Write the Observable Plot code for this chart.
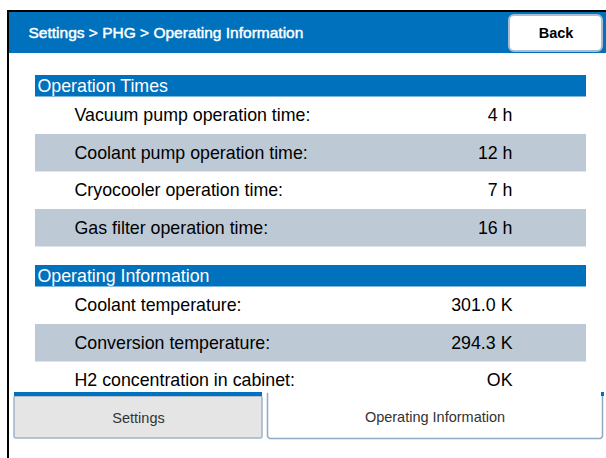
<!DOCTYPE html>
<html>
<head>
<meta charset="utf-8">
<script src="https://cdn.jsdelivr.net/npm/d3@7"></script>
<script src="https://cdn.jsdelivr.net/npm/@observablehq/plot@0.6"></script>
<style>
  html, body { margin: 0; padding: 0; background: #fff; }
  #chart svg { display: block; }
</style>
</head>
<body>
<div id="chart"></div>
<script>
// ---- data ----
const breadcrumb = ["Settings", "PHG", "Operating Information"];
const backLabel = "Back";
const sections = ["Operation Times", "Operating Information"];
const labels = [
  "Vacuum pump operation time:",
  "Coolant pump operation time:",
  "Cryocooler operation time:",
  "Gas filter operation time:",
  "Coolant temperature:",
  "Conversion temperature:",
  "H2 concentration in cabinet:"
];
const values = ["4 h", "12 h", "7 h", "16 h", "301.0 K", "294.3 K", "OK"];
const sectionOf = [0, 0, 0, 0, 1, 1, 1];
const tabs = ["Settings", "Operating Information"];
const activeTab = 1;

// ---- layout (derived, not data) ----
const W = 606, H = 458;
const BLUE = "#0071bc", GRAY = "#bdcad6", FONT = "Liberation Sans, Arial, sans-serif";
const L = {left: 35, right: 586, labelX: 74, valueX: 512, top: 75, headH: 21.5, rowH: 37.5, gap: 18.5};

const heads = [], rows = [];
let y = L.top;
sections.forEach((s, si) => {
  heads.push({name: s, y1: y, y2: y + L.headH});
  y += L.headH;
  let k = 0;
  labels.forEach((lab, i) => {
    if (sectionOf[i] !== si) return;
    rows.push({label: lab, value: values[i], y1: y, y2: y + L.rowH, shaded: k % 2 === 1});
    y += L.rowH; k++;
  });
  y += L.gap;
});

const tabDefs = [
  {name: tabs[0], x1: 14, x2: 262, y1: 396, y2: 438},
  {name: tabs[1], x1: 267, x2: 602, y1: 393, y2: 438}
];
const inactive = tabDefs.filter((d, i) => i !== activeTab);
const active = tabDefs[activeTab];
const activePath = [
  {x: active.x1, y: active.y1}, {x: active.x1, y: active.y2 - 2},
  {x: active.x1 + 2, y: active.y2}, {x: active.x2 - 2, y: active.y2},
  {x: active.x2, y: active.y2 - 2}, {x: active.x2, y: active.y1}
];

const chart = Plot.plot({
  width: W, height: H,
  margin: 0,
  x: {domain: [0, W], range: [0, W], axis: null},
  y: {domain: [0, H], range: [0, H], axis: null},
  style: {fontFamily: FONT, background: "#fff"},
  marks: [
    // frame
    Plot.rect([{x1: 7, x2: W, y1: 10, y2: 12}, {x1: 7, x2: 9, y1: 10, y2: H}], {x1: "x1", x2: "x2", y1: "y1", y2: "y2", fill: "#000"}),
    // title bar
    Plot.rect([{x1: 9, x2: W, y1: 12, y2: 53}], {x1: "x1", x2: "x2", y1: "y1", y2: "y2", fill: BLUE}),
    Plot.text([breadcrumb.join(" > ")], {x: 28, y: 33, text: d => d, textAnchor: "start", fill: "#fff", stroke: "#fff", strokeWidth: 0.45, fontSize: 15.5}),
    Plot.rect([{x1: 509, x2: 602, y1: 15, y2: 51}], {x1: "x1", x2: "x2", y1: "y1", y2: "y2", fill: "#fff", stroke: "#a9bcd2", strokeWidth: 2, rx: 5}),
    Plot.text([backLabel], {x: 555.5, y: 33, text: d => d, fill: "#000", fontSize: 14.5, fontWeight: "bold"}),
    // shaded rows
    Plot.rect(rows.filter(r => r.shaded), {x1: L.left, x2: L.right, y1: "y1", y2: "y2", fill: GRAY}),
    // section headers
    Plot.rect(heads, {x1: L.left, x2: L.right, y1: "y1", y2: "y2", fill: BLUE}),
    Plot.text(heads, {x: L.left + 2, y: d => (d.y1 + d.y2) / 2 + 0.5, text: "name", textAnchor: "start", fill: "#fff", fontSize: 17.8}),
    // labels and values
    Plot.text(rows, {x: L.labelX, y: d => (d.y1 + d.y2) / 2, text: "label", textAnchor: "start", fill: "#000", fontSize: 17.8}),
    Plot.text(rows, {x: L.valueX, y: d => (d.y1 + d.y2) / 2, text: "value", textAnchor: "end", fill: "#000", fontSize: 17.8}),
    // tabs
    Plot.rect([active], {x1: d => d.x1, x2: d => d.x2, y1: d => d.y1, y2: d => d.y2, fill: "#fff"}),
    Plot.line(activePath, {x: "x", y: "y", stroke: "#8fa9c4", strokeWidth: 1.5}),
    Plot.rect([{x1: active.x2 - 1, x2: active.x2 + 2, y1: active.y1 - 1, y2: active.y1 + 3}], {x1: "x1", x2: "x2", y1: "y1", y2: "y2", fill: BLUE}),
    Plot.rect(inactive, {x1: "x1", x2: "x2", y1: "y1", y2: "y2", fill: "#e5e5e5", stroke: "#9fb4ca", strokeWidth: 1.5, rx: 2}),
    Plot.rect(inactive, {x1: "x1", x2: "x2", y1: d => d.y1 - 4, y2: "y1", fill: BLUE}),
    Plot.text(tabDefs, {x: d => (d.x1 + d.x2) / 2, y: d => (d.y1 + d.y2) / 2 + 1, text: "name", fill: "#333", fontSize: 14.5})
  ]
});
document.getElementById("chart").append(chart);
</script>
</body>
</html>
